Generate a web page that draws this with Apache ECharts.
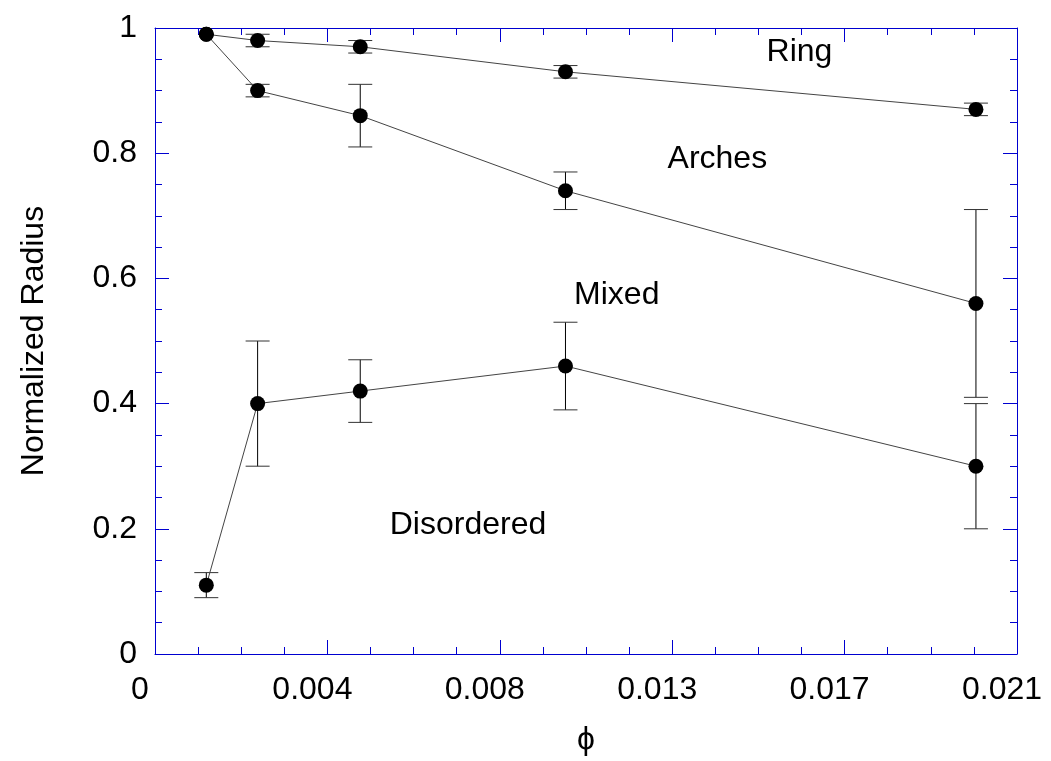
<!DOCTYPE html>
<html>
<head>
<meta charset="utf-8">
<title>Normalized Radius vs phi</title>
<script src="https://cdn.jsdelivr.net/npm/echarts@6/dist/echarts.min.js"></script>
<style>
  html, body { margin: 0; padding: 0; background: #fff; }
  #chart { width: 1051px; height: 761px; }
</style>
</head>
<body>
<div id="chart"></div>
<script>
// Packing fraction values shared by all three curves
const phi = [0.00125, 0.0025, 0.005, 0.01, 0.02];

// Ring boundary
const ringRadius = [0.99, 0.98, 0.97, 0.93, 0.87];
const ringLow    = [null, 0.97, 0.96, 0.92, 0.86];
const ringHigh   = [null, 0.99, 0.98, 0.94, 0.88];

// Arches boundary
const archRadius = [0.99, 0.90, 0.86, 0.74, 0.56];
const archLow    = [null, 0.89, 0.81, 0.71, 0.41];
const archHigh   = [null, 0.91, 0.91, 0.77, 0.71];

// Mixed / disordered boundary
const mixRadius = [0.11, 0.40, 0.42, 0.46, 0.30];
const mixLow    = [0.09, 0.30, 0.37, 0.39, 0.20];
const mixHigh   = [0.13, 0.50, 0.47, 0.53, 0.40];

// Tick labels
const xTickLabels = ['0', '0.004', '0.008', '0.013', '0.017', '0.021'];
const yTickLabels = ['0', '0.2', '0.4', '0.6', '0.8', '1'];

// Region names and where they sit (data units)
const regionNames = ['Ring', 'Arches', 'Mixed', 'Disordered'];
const regionX = [0.0157, 0.0137, 0.01125, 0.007625];
const regionY = [0.962, 0.79, 0.573, 0.205];

const FONT = "'Liberation Sans', Arial, 'DejaVu Sans', sans-serif";
const AXIS_BLUE = '#0000d0';

function pairs(ys) {
  return phi.map((x, i) => [x, ys[i]]);
}
function errData(lo, hi) {
  const out = [];
  phi.forEach((x, i) => {
    if (lo[i] != null && hi[i] != null) out.push([x, lo[i], hi[i]]);
  });
  return out;
}

function renderErrorBar(params, api) {
  const x = api.value(0);
  const pLo = api.coord([x, api.value(1)]);
  const pHi = api.coord([x, api.value(2)]);
  const half = 12;
  return {
    type: 'group',
    children: [
      { type: 'line', shape: { x1: pLo[0], y1: pLo[1], x2: pHi[0], y2: pHi[1] },
        style: { stroke: '#000', lineWidth: 1 } },
      { type: 'line', shape: { x1: pLo[0] - half, y1: pLo[1], x2: pLo[0] + half, y2: pLo[1] },
        style: { stroke: '#333', lineWidth: 1 } },
      { type: 'line', shape: { x1: pHi[0] - half, y1: pHi[1], x2: pHi[0] + half, y2: pHi[1] },
        style: { stroke: '#333', lineWidth: 1 } }
    ]
  };
}

function lineSeries(name, ys) {
  return {
    name: name,
    type: 'line',
    data: pairs(ys),
    symbol: 'circle',
    symbolSize: 15,
    itemStyle: { color: '#000' },
    lineStyle: { color: '#444', width: 1 },
    z: 3,
    animation: false
  };
}
function errSeries(name, lo, hi) {
  return {
    name: name,
    type: 'custom',
    data: errData(lo, hi),
    renderItem: renderErrorBar,
    encode: { x: 0, y: [1, 2] },
    z: 2,
    animation: false
  };
}

const baseX = {
  type: 'value',
  min: 0,
  max: 0.021,
  interval: 0.0042,
  axisLine: { show: true, onZero: false, lineStyle: { color: AXIS_BLUE, width: 1 } },
  axisTick: { show: true, inside: true, length: 14, lineStyle: { color: AXIS_BLUE, width: 1 } },
  minorTick: { show: true, splitNumber: 4, length: 7, lineStyle: { color: AXIS_BLUE, width: 1 } },
  splitLine: { show: false },
  minorSplitLine: { show: false }
};
const baseY = {
  type: 'value',
  min: 0,
  max: 1,
  interval: 0.2,
  axisLine: { show: true, onZero: false, lineStyle: { color: AXIS_BLUE, width: 1 } },
  axisTick: { show: true, inside: true, length: 14, lineStyle: { color: AXIS_BLUE, width: 1 } },
  minorTick: { show: true, splitNumber: 4, length: 7, lineStyle: { color: AXIS_BLUE, width: 1 } },
  splitLine: { show: false },
  minorSplitLine: { show: false }
};

const chart = echarts.init(document.getElementById('chart'), null, { renderer: 'canvas' });

chart.setOption({
  backgroundColor: '#fff',
  animation: false,
  textStyle: { fontFamily: FONT },
  grid: { left: 155, right: 34, top: 28, bottom: 103, containLabel: false },
  xAxis: [
    Object.assign({}, baseX, {
      position: 'bottom',
      name: 'ϕ',
      nameLocation: 'middle',
      nameGap: 70,
      nameTextStyle: { fontSize: 32, color: '#000', fontFamily: FONT },
      axisLabel: {
        show: true, fontSize: 32, color: '#000', fontFamily: FONT, margin: 20,
        padding: [0, 30, 0, 0],
        formatter: (v, i) => xTickLabels[i]
      }
    }),
    Object.assign({}, baseX, { position: 'top', axisLabel: { show: false } })
  ],
  yAxis: [
    Object.assign({}, baseY, {
      position: 'left',
      name: 'Normalized Radius',
      nameLocation: 'middle',
      nameRotate: 90,
      nameGap: 105,
      nameTextStyle: { fontSize: 32, color: '#000', fontFamily: FONT },
      axisLabel: {
        show: true, fontSize: 32, color: '#000', fontFamily: FONT, margin: 18,
        formatter: (v, i) => yTickLabels[i]
      }
    }),
    Object.assign({}, baseY, { position: 'right', axisLabel: { show: false } })
  ],
  series: [
    errSeries('Ring error', ringLow, ringHigh),
    errSeries('Arches error', archLow, archHigh),
    errSeries('Mixed error', mixLow, mixHigh),
    lineSeries('Ring', ringRadius),
    lineSeries('Arches', archRadius),
    lineSeries('Mixed', mixRadius),
    {
      name: 'Regions',
      type: 'scatter',
      symbolSize: 0,
      silent: true,
      itemStyle: { color: '#000', opacity: 1 },
      data: regionNames.map((n, i) => ({ name: n, value: [regionX[i], regionY[i]] })),
      label: {
        show: true,
        position: 'inside',
        formatter: p => p.name,
        fontSize: 32,
        color: '#000',
        textBorderWidth: 0,
        textBorderColor: 'transparent',
        fontFamily: FONT
      },
      z: 4,
      animation: false
    }
  ]
});
</script>
</body>
</html>
